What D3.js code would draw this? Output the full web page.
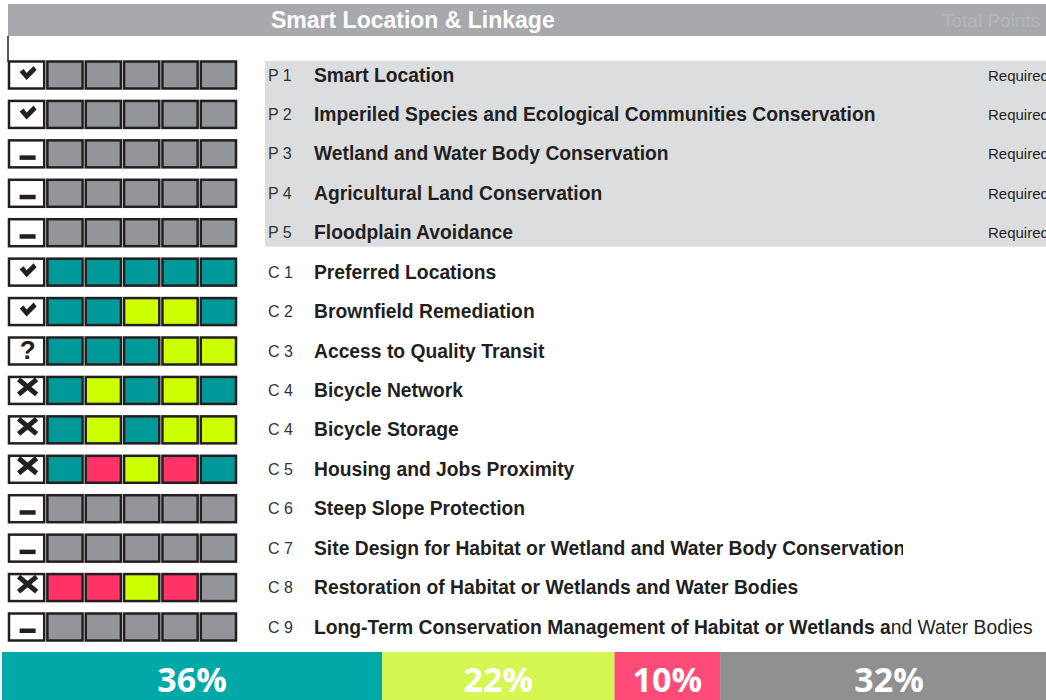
<html>
<head>
<meta charset="utf-8">
<style>
  body { margin: 0; background: #fff; }
  svg { display: block; }
</style>
</head>
<body>
<div id="chartContainer"></div>
<script src="https://cdn.jsdelivr.net/npm/d3@7"></script>
<script type="text/javascript">

// credit codes, names, status, cell colours and points
var codes = ["P 1", "P 2", "P 3", "P 4", "P 5", "C 1", "C 2", "C 3", "C 4", "C 4", "C 5", "C 6", "C 7", "C 8", "C 9"];
var names = [
  "Smart Location",
  "Imperiled Species and Ecological Communities Conservation",
  "Wetland and Water Body Conservation",
  "Agricultural Land Conservation",
  "Floodplain Avoidance",
  "Preferred Locations",
  "Brownfield Remediation",
  "Access to Quality Transit",
  "Bicycle Network",
  "Bicycle Storage",
  "Housing and Jobs Proximity",
  "Steep Slope Protection",
  "Site Design for Habitat or Wetland and Water Body Conservation",
  "Restoration of Habitat or Wetlands and Water Bodies",
  "Long-Term Conservation Management of Habitat or Wetlands a|nd Water Bodies"
];
// note: not called "status" (window.status is a string)
var creditMarks = ["check", "check", "dash", "dash", "dash", "check", "check", "question",
                   "cross", "cross", "cross", "dash", "dash", "cross", "dash"];
// T = achieved, L = maybe, P = missed, G = not applicable
var cells = [
  "GGGGG", "GGGGG", "GGGGG", "GGGGG", "GGGGG",
  "TTTTT", "TTLLT", "TTTLL", "TLTLT", "TLTLL",
  "TPLPT", "GGGGG", "GGGGG", "PPLPG", "GGGGG"
];
var points = ["Required", "Required", "Required", "Required", "Required", "", "", "", "", "", "", "", "", "", ""];

// summary bar
var summaryKeys = ["T", "L", "P", "G"];
var summaryValues = [36, 22, 10, 32];

var cellColor = { T: "#00999a", L: "#ccff00", P: "#ff3366", G: "#939598" };
var barColor = { T: "#00a8a8", L: "#d4f752", P: "#ff4b78", G: "#909090" };

var width = 1046, height = 700;
var svg = d3.select("#chartContainer").append("svg")
    .attr("width", width).attr("height", height);

var font = "'Liberation Sans', Arial, Helvetica, sans-serif";

// scales
var y = d3.scaleLinear().domain([0, codes.length - 1]).range([75, 627]);
var x = d3.scaleBand().domain(d3.range(6)).range([8, 237]).paddingInner(0.03);
var boxH = 27;
var sx = d3.scaleLinear().domain([0, 100]).range([2, 1058]);

// header
svg.append("rect").attr("x", 8).attr("y", 4).attr("width", width - 8).attr("height", 32)
    .attr("fill", "#a7a9ac");
svg.append("text").attr("x", 271).attr("y", 28)
    .style("font-family", font).style("font-weight", "bold").style("font-size", "23px")
    .attr("fill", "#fff").text("Smart Location & Linkage");
svg.append("text").attr("x", 942).attr("y", 27)
    .style("font-family", font).style("font-size", "19px")
    .attr("fill", "#b3b5b8").text("Total Points");
svg.append("line").attr("x1", 8).attr("x2", 8).attr("y1", 36).attr("y2", 62)
    .attr("stroke", "#231f20").attr("stroke-width", 1.5);

// prerequisite band
svg.append("rect").attr("x", 265).attr("y", y(0) - 14)
    .attr("width", width - 265).attr("height", y(4) - y(0) + 28)
    .attr("fill", "#dcdddf");

var rows = svg.selectAll("g.row").data(codes).enter().append("g")
    .attr("class", "row")
    .attr("transform", function (d, i) { return "translate(0," + y(i) + ")"; });

// boxes: first white status box then five colour cells
rows.each(function (d, i) {
  var g = d3.select(this);
  var cols = ["W"].concat(cells[i].split(""));
  g.selectAll("rect.cell").data(cols).enter().append("rect")
    .attr("class", "cell")
    .attr("x", function (c, j) { return x(j) + 1; })
    .attr("y", -boxH / 2)
    .attr("width", x.bandwidth() - 2)
    .attr("height", boxH)
    .attr("fill", function (c) { return c === "W" ? "#fff" : cellColor[c]; })
    .attr("stroke", "#231f20")
    .attr("stroke-width", 2.5);

  var cx = x(0) + x.bandwidth() / 2 + 1;
  var s = creditMarks[i];
  if (s === "check") {
    g.append("path")
      .attr("d", "M" + (cx - 8) + ",-3 L" + (cx - 4) + ",-6 L" + (cx - 1) + ",-2 L" + (cx + 6) + ",-9 L" + (cx + 9) + ",-5 L" + (cx - 1) + ",5 Z")
      .attr("fill", "#231f20");
  } else if (s === "dash") {
    g.append("rect").attr("x", cx - 8).attr("y", 1.5).attr("width", 16).attr("height", 4.5)
      .attr("fill", "#231f20");
  } else if (s === "cross") {
    g.append("path")
      .attr("d", "M" + (cx - 9) + ",-11 L" + (cx + 9) + ",4 M" + (cx - 9) + ",4 L" + (cx + 9) + ",-11")
      .attr("stroke", "#231f20").attr("stroke-width", 5).attr("fill", "none");
  } else if (s === "question") {
    g.append("text").attr("x", cx).attr("y", 8)
      .style("text-anchor", "middle").style("font-family", font)
      .style("font-weight", "bold").style("font-size", "26px")
      .attr("fill", "#231f20").text("?");
  }
});

// clip for long name that runs into the points column
svg.append("clipPath").attr("id", "nameClip").append("rect")
    .attr("x", 300).attr("y", -30).attr("width", 603).attr("height", 60);

rows.append("text").attr("x", 268).attr("y", 5.5)
    .style("font-family", font).style("font-size", "16px")
    .attr("fill", "#333").text(function (d) { return d; });

rows.append("text").attr("x", 314).attr("y", 6.5)
    .style("font-family", font).style("font-size", "19.3px")
    .attr("fill", "#231f20")
    .attr("clip-path", function (d, i) { return codes[i] === "C 7" ? "url(#nameClip)" : null; })
    .each(function (d, i) {
      var parts = names[i].split("|");
      var t = d3.select(this);
      t.append("tspan").style("font-weight", "bold").text(parts[0]);
      if (parts[1]) t.append("tspan").style("font-weight", "normal").text(parts[1]);
    });

rows.append("text").attr("x", 988).attr("y", 5.5)
    .style("font-family", font).style("font-size", "15px")
    .attr("fill", "#231f20").text(function (d, i) { return points[i]; });

// summary bar
var cum = d3.cumsum(summaryValues);
var seg = svg.selectAll("g.seg").data(summaryValues).enter().append("g").attr("class", "seg");
seg.append("rect")
    .attr("x", function (d, i) { return sx(cum[i] - d); })
    .attr("y", 652)
    .attr("width", function (d) { return sx(d) - sx(0); })
    .attr("height", 48)
    .attr("fill", function (d, i) { return barColor[summaryKeys[i]]; });
seg.append("text")
    .attr("x", function (d, i) { return sx(cum[i] - d / 2); })
    .attr("y", 692)
    .style("text-anchor", "middle")
    .style("font-family", "'Open Sans', sans-serif")
    .style("font-weight", "bold")
    .style("font-size", "34px")
    .attr("fill", "#fff")
    .text(function (d) { return d + "%"; });

</script>
</body>
</html>
